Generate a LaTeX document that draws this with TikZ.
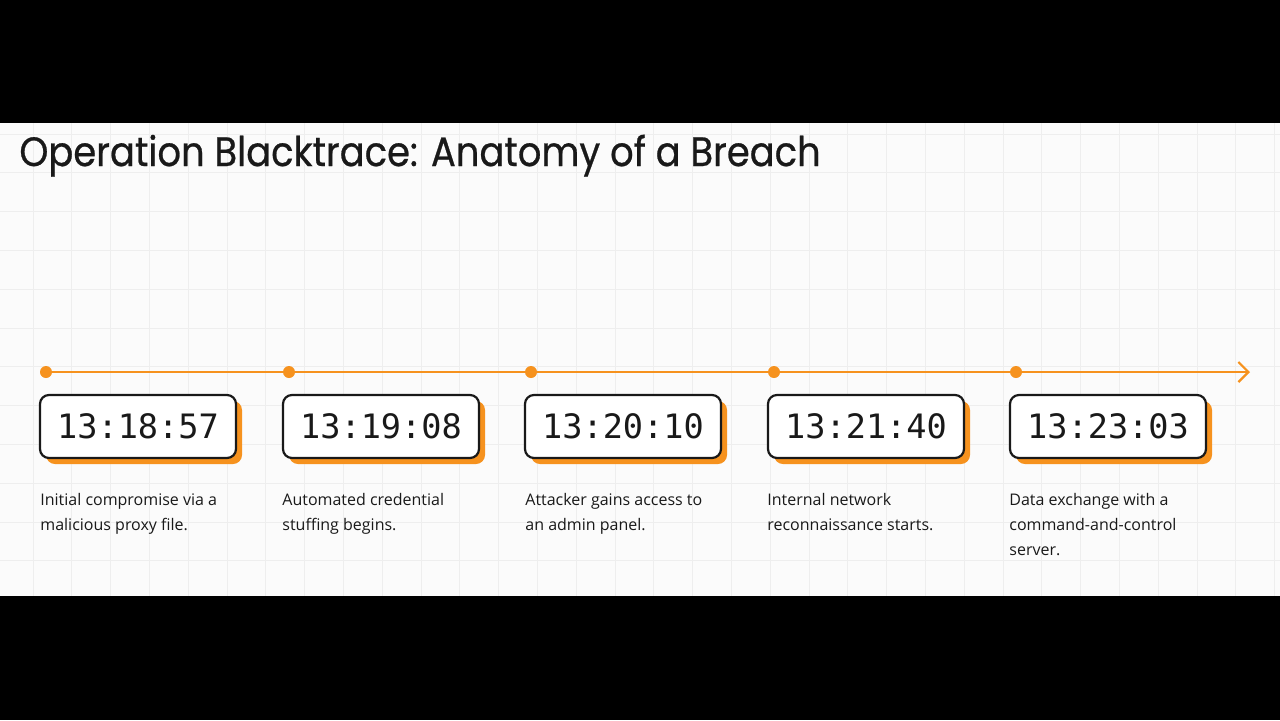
\documentclass[tikz,border=0pt]{standalone}
\usepackage{fontspec}
\setmainfont{Open Sans}
\newfontfamily\titlefont[FakeStretch=0.9,FakeBold=0.6]{Poppins}
\newfontfamily\clockfont{DejaVu Sans Mono}
\usetikzlibrary{arrows.meta,shadows}
\definecolor{accent}{RGB}{246,146,30}
\definecolor{bgc}{RGB}{251,251,251}
\definecolor{gridc}{RGB}{238,238,238}
\definecolor{inkc}{RGB}{25,25,25}
\tikzset{
  timebox/.style={draw=inkc, line width=1.1pt, rounded corners=4.5pt, fill=white,
    minimum width=98pt, minimum height=31.5pt, inner sep=0pt,
    font=\clockfont\fontsize{16.8}{20}\selectfont, text=inkc,
    drop shadow={shadow xshift=3pt, shadow yshift=-3pt, fill=accent, opacity=1}},
  dot/.style={circle, fill=accent, minimum size=6pt, inner sep=0pt},
  desc/.style={anchor=north west, align=left, inner sep=0pt, text=inkc,
    font=\fontsize{8}{12.5}\selectfont},
  tline/.style={draw=accent, line width=1.1pt},
}
\begin{document}
\begin{tikzpicture}[x=0.5pt,y=-0.5pt]
\useasboundingbox (0,0) rectangle (1280,720);
\fill[black] (0,0) rectangle (1280,720);
\fill[bgc] (0,123) rectangle (1280,596);
\begin{scope}
\clip (0,123) rectangle (1280,596);
\foreach \i in {0,...,32} \draw[gridc, line width=0.5pt] ({33+38.8*\i},123) -- ({33+38.8*\i},596);
\foreach \i in {0,...,11} \draw[gridc, line width=0.5pt] (0,{134+38.8*\i}) -- (1280,{134+38.8*\i});
\end{scope}
\node[anchor=base west, inner sep=0pt, text=inkc, font=\titlefont\fontsize{20.5}{24}\selectfont] (title) at (19,166) {Operation Blacktrace: Anatomy of a Breach};
% timeline
\coordinate (end) at (1250,372);
\node[dot] (d1) at (46,372) {};
\node[dot] (d2) at (289,372) {};
\node[dot] (d3) at (531,372) {};
\node[dot] (d4) at (774,372) {};
\node[dot] (d5) at (1016,372) {};
\draw[tline] (d1) -- (d2);
\draw[tline] (d2) -- (d3);
\draw[tline] (d3) -- (d4);
\draw[tline] (d4) -- (d5);
\draw[tline, -{Straight Barb[length=5pt,width=10pt,line width=1.1pt]}] (d5) -- (end);
% boxes
\node[timebox] (t1) at (138,426.5) {13:18:57};
\node[timebox] (t2) at (381,426.5) {13:19:08};
\node[timebox] (t3) at (623,426.5) {13:20:10};
\node[timebox] (t4) at (866,426.5) {13:21:40};
\node[timebox] (t5) at (1108,426.5) {13:23:03};
% descriptions
\node[desc] (s1) at (40,493) {Initial compromise via a\\malicious proxy file.};
\node[desc] (s2) at (282,493) {Automated credential\\stuffing begins.};
\node[desc] (s3) at (525,493) {Attacker gains access to\\an admin panel.};
\node[desc] (s4) at (767,493) {Internal network\\reconnaissance starts.};
\node[desc] (s5) at (1009,493) {Data exchange with a\\command-and-control\\server.};
\end{tikzpicture}
\end{document}
